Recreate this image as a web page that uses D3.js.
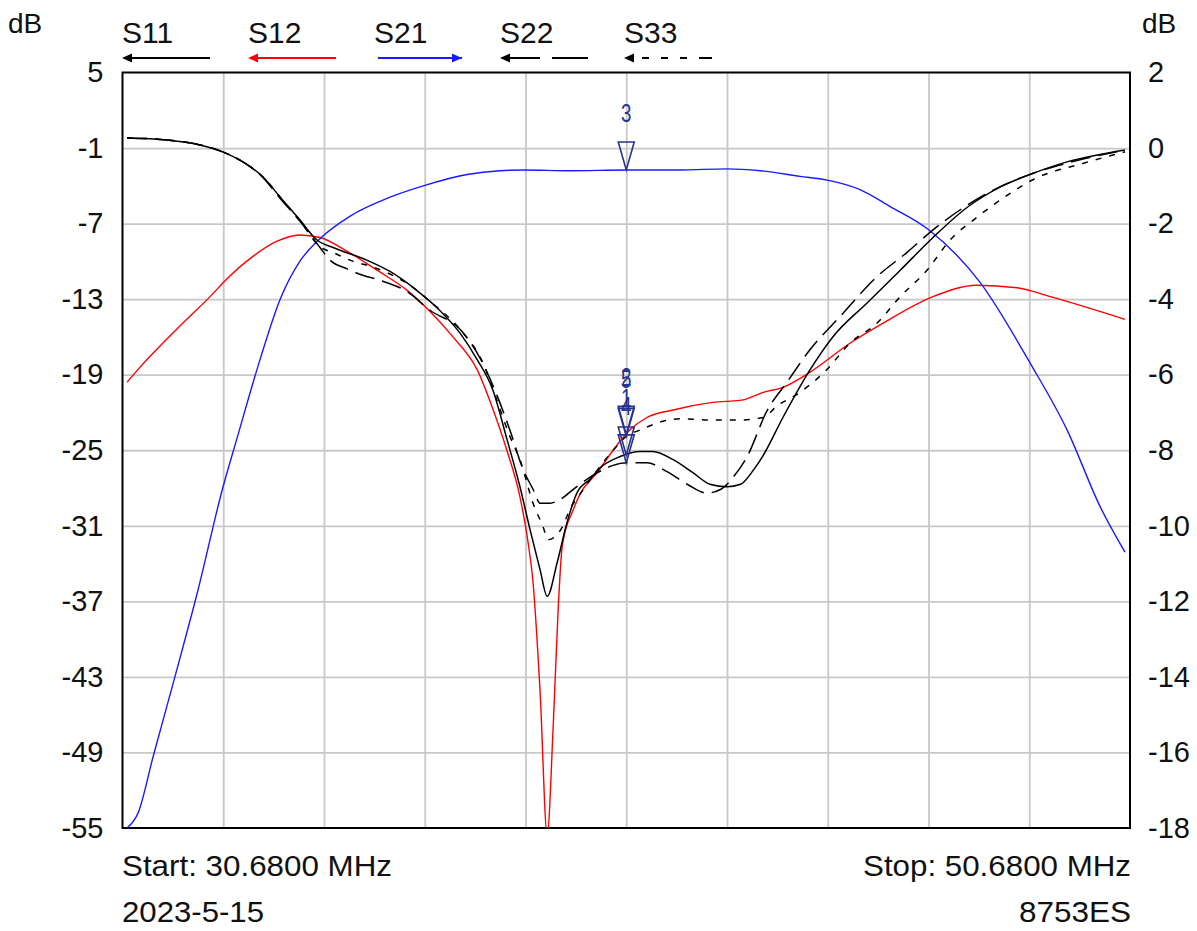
<!DOCTYPE html>
<html lang="en">
<head>
<meta charset="UTF-8">
<title>S-parameter sweep 30.68 - 50.68 MHz</title>
<script src="https://d3js.org/d3.v7.min.js"></script>
<style>
  body { margin: 0; background: #fff; }
  text { font-family: "Liberation Sans", Arial, sans-serif; fill: #111; }
</style>
</head>
<body>
<svg id="chart"></svg>
<script>
// ---- data (MHz / dB) ----
const leftTicks  = [5, -1, -7, -13, -19, -25, -31, -37, -43, -49, -55];
const rightTicks = [2, 0, -2, -4, -6, -8, -10, -12, -14, -16, -18];
const freqTicks  = [30.68, 32.68, 34.68, 36.68, 38.68, 40.68, 42.68, 44.68, 46.68, 48.68, 50.68];

const traceNames = ["S11", "S12", "S21", "S22", "S33"];

const s11Freq = [30.77, 31.56, 32.22, 32.67, 33.07, 33.47, 33.81, 34.20, 34.54, 34.86, 35.53, 35.99, 36.52, 36.98, 37.38, 37.72, 38.03, 38.31, 38.57, 38.77, 38.97, 39.11, 39.31, 39.50, 39.70, 39.96, 40.16, 40.56, 40.95, 41.21, 41.61, 42.01, 42.34, 42.68, 42.95, 43.20, 43.40, 43.79, 44.33, 44.78, 45.46, 46.12, 46.77, 47.45, 48.10, 48.76, 49.43, 50.58];
const s11dB   = [-0.2, -0.36, -0.75, -1.3, -2.1, -3.3, -4.9, -6.7, -8.3, -8.9, -9.9, -10.8, -12.3, -13.9, -15.7, -17.8, -20.2, -24.1, -27.9, -31.3, -34.5, -36.6, -33.9, -30.8, -28.4, -27.3, -26.4, -25.5, -25.1, -25.1, -25.75, -26.8, -27.7, -27.9, -27.7, -26.6, -25.4, -22.4, -18.6, -16.0, -13.3, -10.7, -8.1, -5.7, -4.1, -3.0, -2.1, -1.15];

const s12Freq = [30.77, 31.03, 31.88, 32.42, 32.75, 33.27, 33.75, 34.20, 34.60, 35.14, 35.73, 36.33, 36.79, 37.24, 37.72, 38.03, 38.31, 38.57, 38.73, 38.83, 38.97, 39.11, 39.23, 39.33, 39.41, 39.63, 39.76, 40.10, 40.42, 40.75, 41.09, 41.61, 42.40, 43.00, 43.40, 43.79, 44.33, 45.12, 45.78, 46.77, 47.64, 48.44, 49.10, 50.58];
const s12dB   = [-19.6, -18.4, -14.9, -12.8, -11.4, -9.6, -8.4, -7.9, -8.1, -9.2, -10.7, -12.3, -14.0, -16.0, -18.6, -21.7, -25.0, -28.7, -32.3, -35.5, -44.2, -55.5, -46.9, -37.5, -32.6, -29.7, -28.5, -26.8, -25.0, -23.4, -22.4, -21.8, -21.2, -21.0, -20.4, -20.0, -18.8, -16.5, -14.9, -12.8, -11.9, -12.1, -12.8, -14.6];

// S21 is read against the right-hand scale
const s21Freq = [30.77, 30.99, 31.29, 31.72, 32.16, 32.67, 32.95, 33.41, 33.81, 34.20, 34.60, 35.20, 35.99, 36.65, 37.52, 38.17, 38.67, 39.56, 40.68, 41.75, 42.68, 43.34, 44.13, 44.67, 45.32, 45.92, 46.67, 47.70, 48.70, 49.43, 50.09, 50.58];
const s21dB   = [-18.0, -17.6, -16.1, -14.0, -11.8, -9.0, -7.7, -5.6, -4.0, -3.0, -2.4, -1.8, -1.3, -1.0, -0.7, -0.6, -0.58, -0.6, -0.58, -0.58, -0.55, -0.6, -0.75, -0.85, -1.1, -1.55, -2.15, -3.55, -5.7, -7.46, -9.5, -10.7];

const s22Freq = [30.77, 31.56, 32.22, 32.67, 33.07, 33.47, 33.81, 34.20, 34.60, 34.80, 35.14, 35.45, 35.79, 36.33, 36.79, 37.38, 37.78, 38.11, 38.37, 38.63, 38.83, 38.97, 39.17, 39.37, 39.63, 39.76, 40.10, 40.42, 40.68, 41.09, 41.49, 41.89, 42.28, 42.56, 42.81, 43.08, 43.47, 43.87, 44.33, 44.92, 45.66, 46.25, 46.77, 47.31, 47.84, 48.76, 49.43, 50.58];
const s22dB   = [-0.2, -0.36, -0.75, -1.3, -2.1, -3.35, -5.0, -6.8, -8.9, -9.9, -10.6, -11.1, -11.5, -12.4, -13.9, -15.4, -17.7, -20.6, -23.4, -26.5, -28.1, -29.2, -29.2, -28.9, -28.1, -27.7, -26.8, -26.2, -26.0, -26.0, -26.7, -27.7, -28.4, -28.1, -27.1, -25.5, -21.9, -19.6, -17.0, -14.4, -11.2, -9.3, -7.5, -5.9, -4.6, -3.0, -2.2, -1.15];

const s33Freq = [30.77, 31.56, 32.22, 32.67, 33.07, 33.47, 33.81, 34.20, 34.60, 34.86, 35.26, 35.65, 35.93, 36.39, 36.79, 37.38, 37.84, 38.11, 38.37, 38.57, 38.83, 39.03, 39.13, 39.41, 39.56, 39.76, 40.10, 40.42, 40.68, 40.95, 41.41, 41.75, 42.40, 42.95, 43.40, 43.67, 44.13, 44.66, 45.12, 45.66, 46.12, 46.65, 47.11, 47.64, 48.30, 48.76, 49.76, 50.58];
const s33dB   = [-0.2, -0.36, -0.75, -1.3, -2.1, -3.3, -4.9, -6.75, -8.85, -9.3, -10.0, -10.45, -10.9, -11.9, -13.2, -15.4, -18.1, -21.0, -23.9, -25.75, -29.2, -31.1, -32.1, -31.1, -29.7, -28.5, -26.6, -25.0, -23.9, -23.4, -22.7, -22.5, -22.6, -22.6, -22.4, -21.5, -20.4, -18.6, -16.5, -14.9, -12.8, -10.7, -8.3, -6.5, -4.6, -3.5, -2.2, -1.3];

const markerFreq = 40.68;
const markerNums = ["1", "2", "3", "4", "5"];

// ---- layout ----
const width = 1197, height = 931;
const plotL = 122.5, plotR = 1130, plotT = 72.5, plotB = 828;

const svg = d3.select("#chart").attr("width", width).attr("height", height);

const x  = d3.scaleLinear().domain([30.68, 50.68]).range([plotL, plotR]);
const yL = d3.scaleLinear().domain([-55, 5]).range([plotB, plotT]);
const yR = d3.scaleLinear().domain([-18, 2]).range([plotB, plotT]);

// grid
svg.append("g")
    .attr("transform", `translate(0,${plotB})`)
    .call(d3.axisBottom(x).tickValues(freqTicks.slice(1, -1)).tickSize(-(plotB - plotT)).tickFormat(""))
    .call(g => g.select(".domain").remove())
    .call(g => g.selectAll("line").attr("stroke", "#c8c8c8").attr("stroke-width", 1.8));

svg.append("g")
    .attr("transform", `translate(${plotL},0)`)
    .call(d3.axisLeft(yL).tickValues(leftTicks.slice(1, -1)).tickSize(-(plotR - plotL)).tickFormat(""))
    .call(g => g.select(".domain").remove())
    .call(g => g.selectAll("line").attr("stroke", "#c8c8c8").attr("stroke-width", 1.8));

// tick labels (plain hyphen minus, as on the instrument)
svg.append("g")
    .attr("transform", `translate(${plotL},0)`)
    .call(d3.axisLeft(yL).tickValues(leftTicks).tickSize(0).tickPadding(19).tickFormat(d => String(d)))
    .call(g => g.select(".domain").remove())
    .call(g => g.selectAll("text").attr("font-size", 29).attr("font-family", "Liberation Sans, Arial").attr("fill", "#111"));

svg.append("g")
    .attr("transform", `translate(${plotR},0)`)
    .call(d3.axisRight(yR).tickValues(rightTicks).tickSize(0).tickPadding(18).tickFormat(d => String(d)))
    .call(g => g.select(".domain").remove())
    .call(g => g.selectAll("text").attr("font-size", 29).attr("font-family", "Liberation Sans, Arial").attr("fill", "#111"));

// frame
svg.append("rect")
    .attr("x", plotL).attr("y", plotT)
    .attr("width", plotR - plotL).attr("height", plotB - plotT)
    .attr("fill", "none").attr("stroke", "#000").attr("stroke-width", 2);

svg.append("clipPath").attr("id", "plotClip")
  .append("rect")
    .attr("x", plotL).attr("y", plotT)
    .attr("width", plotR - plotL).attr("height", plotB - plotT);

// traces
const traces = [
    { name: "S11", f: s11Freq, v: s11dB, y: yL, color: "#000", dash: null,  w: 1.5 },
    { name: "S12", f: s12Freq, v: s12dB, y: yL, color: "#ff0000", dash: null, w: 1.4 },
    { name: "S21", f: s21Freq, v: s21dB, y: yR, color: "#1a1aff", dash: null, w: 1.4 },
    { name: "S22", f: s22Freq, v: s22dB, y: yL, color: "#000", dash: "20,8", w: 1.5 },
    { name: "S33", f: s33Freq, v: s33dB, y: yL, color: "#000", dash: "6,8",  w: 1.5 }
];

const plot = svg.append("g").attr("clip-path", "url(#plotClip)");
const drawOrder = [1, 2, 4, 3, 0];
drawOrder.forEach(i => {
    const t = traces[i];
    const line = d3.line()
        .x((d, j) => x(t.f[j]))
        .y(d => t.y(d))
        .curve(d3.curveMonotoneX);
    plot.append("path")
        .attr("d", line(t.v))
        .attr("fill", "none")
        .attr("stroke", t.color)
        .attr("stroke-width", t.w)
        .attr("stroke-dasharray", t.dash)
        .attr("stroke-linejoin", "round");
});

// markers
function valueAt(fs, vs, f) {
    const i = d3.bisectLeft(fs, f);
    if (fs[i] === f) return vs[i];
    const k = (f - fs[i - 1]) / (fs[i] - fs[i - 1]);
    return vs[i - 1] + k * (vs[i] - vs[i - 1]);
}

const markerColor = "#27338f";
traces.forEach((t, i) => {
    const mx = x(markerFreq);
    const my = t.y(valueAt(t.f, t.v, markerFreq));
    svg.append("path")
        .attr("d", `M${mx - 8},${my - 28}L${mx + 8},${my - 28}L${mx},${my}Z`)
        .attr("fill", "none")
        .attr("stroke", markerColor)
        .attr("stroke-width", 1.6);
    svg.append("text")
        .attr("transform", `translate(${mx},${my - 48}) scale(0.72,1)`)
        .attr("text-anchor", "middle")
        .attr("font-size", 26)
        .style("fill", markerColor)
        .text(markerNums[i]);
});

// legend
const legendX = [122, 248, 374, 500, 624];
traces.forEach((t, i) => {
    const lx = legendX[i];
    svg.append("text")
        .attr("x", lx).attr("y", 43)
        .attr("font-size", 30)
        .text(t.name);
    svg.append("line")
        .attr("x1", lx + 4).attr("x2", lx + 88)
        .attr("y1", 58).attr("y2", 58)
        .attr("stroke", t.color)
        .attr("stroke-width", 2)
        .attr("stroke-dasharray", t.name === "S22" ? "36,12" : t.name === "S33" ? "0,14,7,12,7,12,7,12,7" : null);
    const pointsRight = t.name === "S21";
    const ax = pointsRight ? lx + 88 : lx;
    const dir = pointsRight ? -1 : 1;
    svg.append("path")
        .attr("d", `M${ax},58L${ax + dir * 10},53.5L${ax + dir * 10},62.5Z`)
        .attr("fill", t.color);
});

// corner texts
svg.append("text").attr("x", 8).attr("y", 33).attr("font-size", 28).text("dB");
svg.append("text").attr("x", 1142).attr("y", 33).attr("font-size", 28).text("dB");

const footer = [
    { text: "Start: 30.6800 MHz", x: 122,  y: 876, anchor: "start", len: 270 },
    { text: "Stop: 50.6800 MHz",  x: 1131, y: 876, anchor: "end",   len: 268 },
    { text: "2023-5-15",          x: 122,  y: 922, anchor: "start", len: 142 },
    { text: "8753ES",             x: 1131, y: 922, anchor: "end",   len: 112 }
];
footer.forEach(d => {
    svg.append("text")
        .attr("x", d.x).attr("y", d.y)
        .attr("font-size", 29)
        .attr("text-anchor", d.anchor)
        .attr("textLength", d.len)
        .attr("lengthAdjust", "spacingAndGlyphs")
        .text(d.text);
});
</script>
</body>
</html>
